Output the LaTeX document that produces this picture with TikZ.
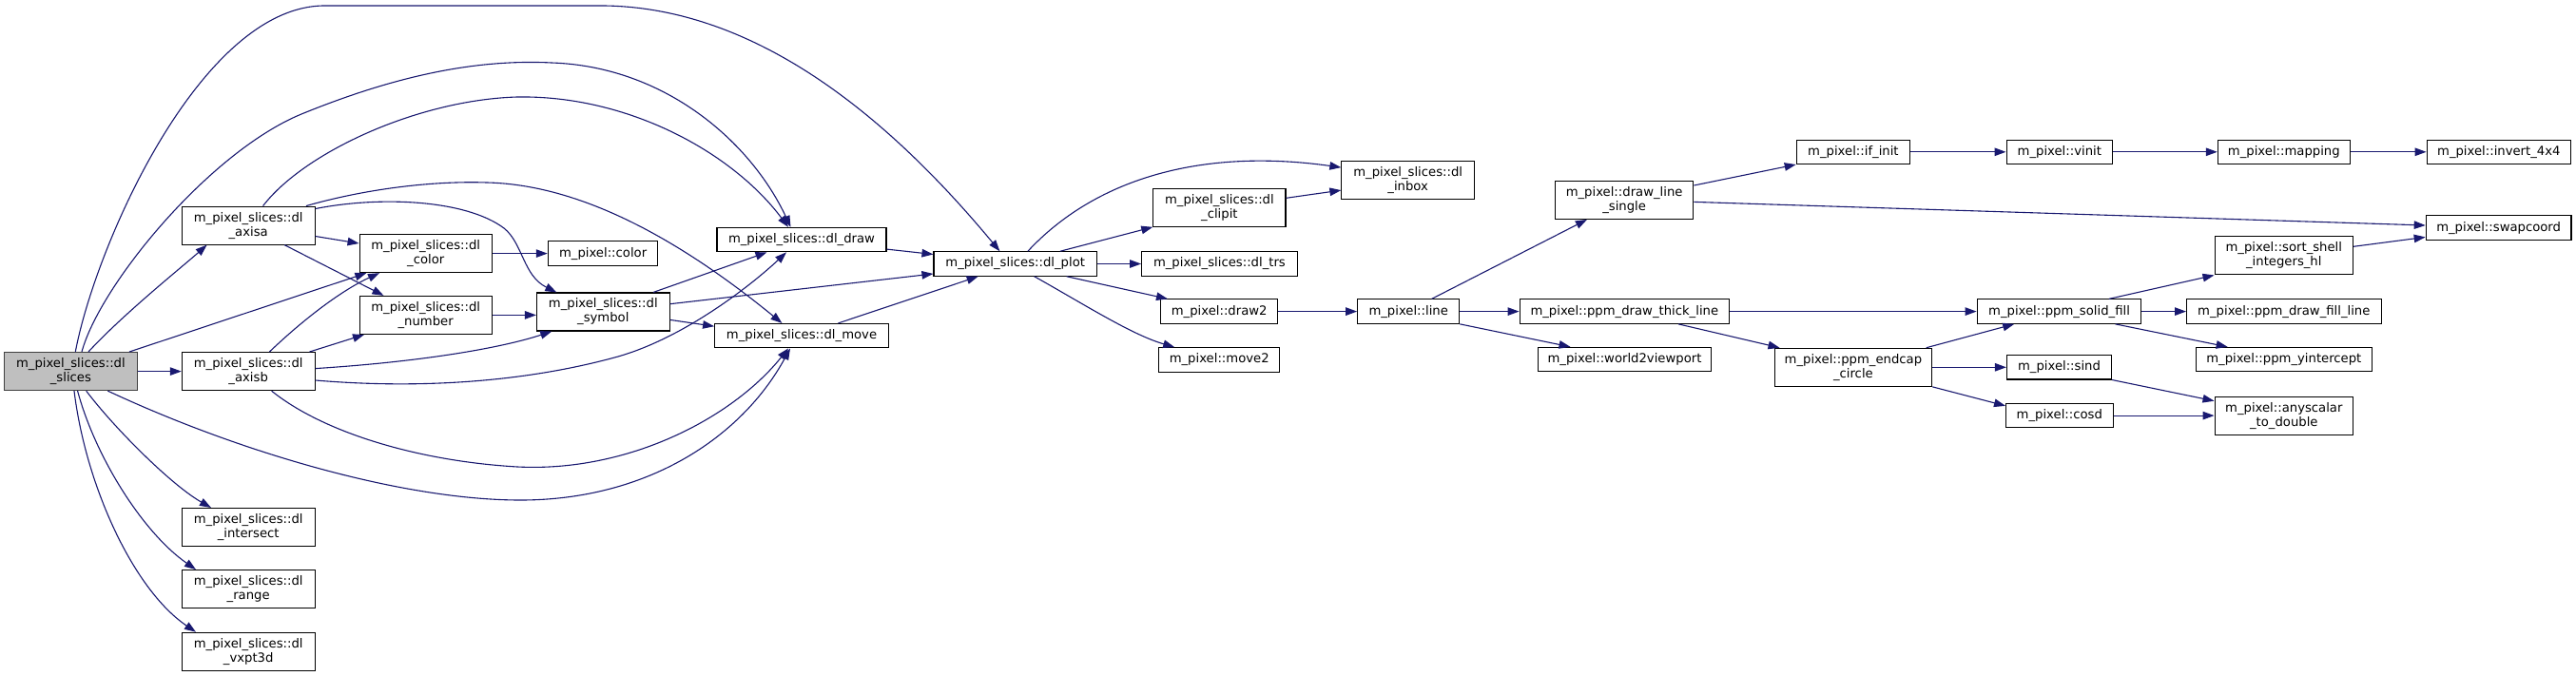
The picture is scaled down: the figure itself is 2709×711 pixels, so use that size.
\documentclass[tikz,border=0pt]{standalone}
\usepackage{fontspec}
\setmainfont{DejaVu Sans}
\usetikzlibrary{arrows.meta}
\definecolor{edgec}{HTML}{191970}
\definecolor{greyfill}{HTML}{BFBFBF}
\begin{document}
\begin{tikzpicture}[x=1pt,y=-1pt,
  fn/.style={draw=black, line width=1.1pt, fill=white, inner sep=0pt, align=center, font=\fontsize{13.2pt}{15pt}\selectfont},
  one/.style={fn, minimum height=25.4pt},
  two/.style={fn, minimum height=40pt},
  call/.style={draw=edgec, line width=1.1pt, -{Triangle[length=12pt,width=8.5pt]}}]
\fill[white] (0,0) rectangle (2709,711);
\useasboundingbox (0,0) rectangle (2709,711);

% nodes
\node[two, minimum width=139.7pt, fill=greyfill, draw=black!75] (slices) at (74.4,390.6) {m\_pixel\_slices::dl\\\_slices};
\node[two, minimum width=139.7pt] (axisa) at (261.2,237.1) {m\_pixel\_slices::dl\\\_axisa};
\node[two, minimum width=139.7pt] (axisb) at (261.2,390.6) {m\_pixel\_slices::dl\\\_axisb};
\node[two, minimum width=139.7pt] (intersect) at (261.2,554.5) {m\_pixel\_slices::dl\\\_intersect};
\node[two, minimum width=139.7pt] (range) at (261.2,619.6) {m\_pixel\_slices::dl\\\_range};
\node[two, minimum width=139.7pt] (vxpt) at (261.2,685.3) {m\_pixel\_slices::dl\\\_vxpt3d};
\node[two, minimum width=139.2pt] (color) at (447.7,266.6) {m\_pixel\_slices::dl\\\_color};
\node[two, minimum width=139.2pt] (number) at (447.7,331.4) {m\_pixel\_slices::dl\\\_number};
\node[one, minimum width=115.6pt] (pcolor) at (634.1,266.6) {m\_pixel::color};
\node[two, minimum width=139.6pt] (symbol) at (634.3,328) {m\_pixel\_slices::dl\\\_symbol};
\node[one, minimum width=178pt] (draw) at (843,252.1) {m\_pixel\_slices::dl\_draw};
\node[one, minimum width=182.7pt] (move) at (843,353.2) {m\_pixel\_slices::dl\_move};
\node[one, minimum width=171.4pt] (plot) at (1067.7,277.5) {m\_pixel\_slices::dl\_plot};
\node[two, minimum width=139.2pt] (clipit) at (1282.4,218.3) {m\_pixel\_slices::dl\\\_clipit};
\node[one, minimum width=163.6pt] (trs) at (1282.4,277.5) {m\_pixel\_slices::dl\_trs};
\node[one, minimum width=123.3pt] (draw2) at (1282.2,327.6) {m\_pixel::draw2};
\node[one, minimum width=127pt] (move2) at (1282.2,378.4) {m\_pixel::move2};
\node[two, minimum width=139.6pt] (inbox) at (1480.7,189.1) {m\_pixel\_slices::dl\\\_inbox};
\node[one, minimum width=107pt] (line) at (1481.2,327.6) {m\_pixel::line};
\node[two, minimum width=145.6pt] (dls) at (1708.1,210.4) {m\_pixel::draw\_line\\\_single};
\node[one, minimum width=220.4pt] (thick) at (1708.3,327.6) {m\_pixel::ppm\_draw\_thick\_line};
\node[one, minimum width=182.7pt] (wv) at (1708.5,378.1) {m\_pixel::world2viewport};
\node[one, minimum width=119.3pt] (ifinit) at (1948.9,159.8) {m\_pixel::if\_init};
\node[two, minimum width=165.5pt] (endcap) at (1948.9,386.3) {m\_pixel::ppm\_endcap\\\_circle};
\node[one, minimum width=111.5pt] (vinit) at (2165.8,159.8) {m\_pixel::vinit};
\node[one, minimum width=139pt] (mapping) at (2401.8,159.8) {m\_pixel::mapping};
\node[one, minimum width=151.4pt] (invert) at (2627.8,159.8) {m\_pixel::invert\_4x4};
\node[one, minimum width=152.8pt] (swap) at (2627.6,239.6) {m\_pixel::swapcoord};
\node[two, minimum width=145.5pt] (sort) at (2401.8,268.9) {m\_pixel::sort\_shell\\\_integers\_hl};
\node[one, minimum width=172.7pt] (solid) at (2165.5,327.6) {m\_pixel::ppm\_solid\_fill};
\node[one, minimum width=204.5pt] (fillline) at (2401.8,327.6) {m\_pixel::ppm\_draw\_fill\_line};
\node[one, minimum width=184.5pt] (yint) at (2401.8,378.1) {m\_pixel::ppm\_yintercept};
\node[one, minimum width=110.2pt] (sind) at (2165.5,386.3) {m\_pixel::sind};
\node[one, minimum width=112.5pt] (cosd) at (2165.8,437.1) {m\_pixel::cosd};
\node[two, minimum width=145.5pt] (anys) at (2401.8,437.1) {m\_pixel::anyscalar\\\_to\_double};

% edges from dl_slices
\draw[call] ([xshift=18.6pt]slices.north) .. controls (130,330) and (190,282) .. ([xshift=-43.6pt]axisa.south);
\draw[call] (slices.east) -- (axisb.west);
\draw[call] ([xshift=61.6pt]slices.north) -- ([xshift=-62.3pt]color.south);
\draw[call] ([xshift=4.9pt]slices.north) .. controls (100,260) and (210,8) .. (340,6) -- (635,6) .. controls (800,8) and (940,130) .. ([xshift=-16.3pt]plot.north);
\draw[call] ([xshift=11.6pt]slices.north) .. controls (105,300) and (220,160) .. (317,120) .. controls (415,80) and (500,62) .. (580,66) .. controls (700,70) and (790,150) .. ([xshift=-11.5pt]draw.north);
\draw[call] ([xshift=39pt]slices.south) .. controls (250,475) and (420,525) .. (544,526) .. controls (680,527) and (780,460) .. ([xshift=-12pt]move.south);
\draw[call] ([xshift=16.3pt]slices.south) .. controls (120,450) and (180,510) .. ([xshift=-39.2pt]intersect.north);
\draw[call] ([xshift=7.2pt]slices.south) .. controls (100,480) and (150,560) .. ([xshift=-55.2pt]range.north);
\draw[call] ([xshift=3.6pt]slices.south) .. controls (90,510) and (140,620) .. ([xshift=-55.2pt]vxpt.north);

% edges from dl_axisa
\draw[call] ([xshift=15.4pt]axisa.north) .. controls (320,160) and (440,105) .. (544,102) .. controls (660,100) and (770,160) .. ([xshift=-14pt]draw.north);
\draw[call] ([xshift=60.8pt]axisa.north) .. controls (380,200) and (450,190) .. (512,192) .. controls (600,194) and (700,240) .. ([xshift=-20.6pt]move.north);
\draw[call] ([yshift=-3pt]axisa.north east) .. controls (400,206) and (490,210) .. (530,240) .. controls (550,256) and (550,290) .. ([xshift=-49pt]symbol.north);
\draw[call] ([yshift=-11.4pt]axisa.east) -- ([yshift=10.6pt]color.west);
\draw[call] ([xshift=38pt]axisa.south) -- ([xshift=-44.2pt]number.north);

% edges from dl_axisb
\draw[call] ([xshift=22.2pt]axisb.north) .. controls (320,335) and (360,305) .. ([xshift=-48.7pt]color.south);
\draw[call] ([xshift=64.3pt]axisb.north) -- ([xshift=-64.7pt]number.south);
\draw[call] ([yshift=3pt]axisb.east) .. controls (450,380) and (530,365) .. ([xshift=-54pt]symbol.south);
\draw[call] ([yshift=-9.4pt]axisb.east) .. controls (450,410) and (560,400) .. (650,375) .. controls (720,355) and (790,300) .. ([xshift=-16pt]draw.south);
\draw[call] ([xshift=24.4pt]axisb.south) .. controls (340,455) and (440,485) .. (544,491) .. controls (660,497) and (770,440) .. ([xshift=-14pt]move.south);

% middle
\draw[call] (color.east) -- (pcolor.west);
\draw[call] (number.east) -- (number.east -| symbol.west);
\draw[call] ([xshift=52.7pt]symbol.north) -- ([xshift=-36.5pt]draw.south);
\draw[call] ([yshift=8.3pt]symbol.east) -- ([yshift=-10.5pt]plot.west);
\draw[call] ([yshift=-8.4pt]symbol.east) -- ([yshift=10pt]move.west);
\draw[call] ([yshift=-10pt]draw.east) -- ([yshift=10pt]plot.west);
\draw[call] ([xshift=38.4pt]move.north) -- ([xshift=-39pt]plot.south);

% from dl_plot
\draw[call] ([xshift=13.2pt]plot.north) .. controls (1150,190) and (1260,155) .. ([yshift=13pt]inbox.west);
\draw[call] ([xshift=47.2pt]plot.north) -- (clipit.south west);
\draw[call] (plot.east) -- (trs.west);
\draw[call] ([xshift=54pt]plot.south) -- ([xshift=-54.2pt]draw2.north);
\draw[call] ([xshift=20pt]plot.south) .. controls (1140,320) and (1190,352) .. ([xshift=-47pt]move2.north);
\draw[call] ([yshift=10pt]clipit.east) -- ([yshift=-11pt]inbox.west);

% m_pixel chain
\draw[call] (draw2.east) -- (line.west);
\draw[call] ([xshift=24.4pt]line.north) -- ([xshift=-39.2pt]dls.south);
\draw[call] (line.east) -- (thick.west);
\draw[call] (line.south east) -- ([xshift=-57pt]wv.north);
\draw[call] ([yshift=15.4pt]dls.east) -- (ifinit.south west);
\draw[call] ([yshift=-2pt]dls.east) -- ([yshift=2.6pt]swap.west);
\draw[call] (ifinit.east) -- (vinit.west);
\draw[call] (vinit.east) -- (mapping.west);
\draw[call] (mapping.east) -- (invert.west);
\draw[call] (thick.east) -- (solid.west);
\draw[call] ([xshift=56.7pt]thick.south) -- ([xshift=-77.4pt]endcap.north);
\draw[call] ([xshift=76.8pt]endcap.north) -- ([xshift=-47.3pt]solid.south);
\draw[call] (endcap.east) -- (sind.west);
\draw[call] (endcap.south east) -- ([yshift=-3pt]cosd.north west);
\draw[call] ([xshift=52.4pt]solid.north) -- (sort.south west);
\draw[call] (solid.east) -- (fillline.west);
\draw[call] ([xshift=59pt]solid.south) -- ([xshift=-59.2pt]yint.north);
\draw[call] ([yshift=9.6pt]sort.east) -- ([yshift=-9.8pt]swap.west);
\draw[call] (sind.south east) -- ([yshift=15.4pt]anys.west);
\draw[call] (cosd.east) -- (anys.west);
\end{tikzpicture}
\end{document}
